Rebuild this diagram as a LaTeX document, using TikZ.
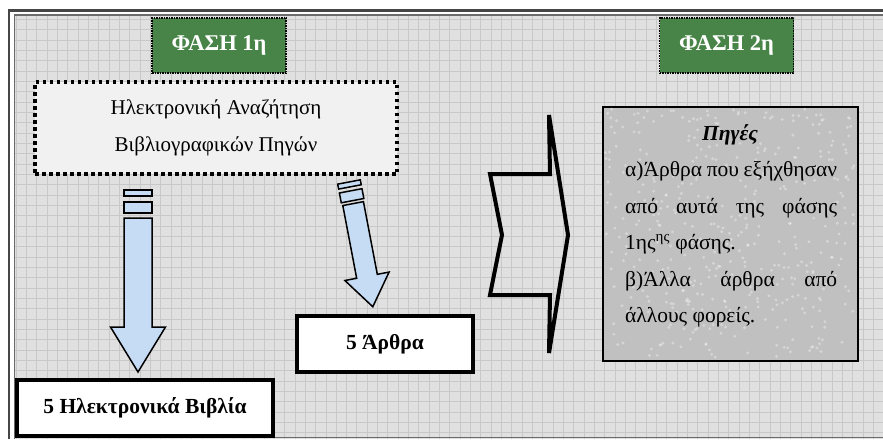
\documentclass[tikz,border=0pt]{standalone}
\usepackage{fontspec}
\setmainfont{Liberation Serif}
\usetikzlibrary{calc}

\definecolor{gridbg}{RGB}{224,224,224}
\definecolor{gridline}{RGB}{200,200,200}
\definecolor{framegray}{RGB}{70,70,70}
\definecolor{phasegreen}{RGB}{72,132,72}
\definecolor{arrowblue}{RGB}{198,220,244}
\definecolor{searchbg}{RGB}{241,241,241}
\definecolor{srcbg}{RGB}{192,192,192}

\tikzset{
  phasebox/.style={draw=black, densely dotted, line width=1.5pt, fill=phasegreen,
    text=white, font=\fontsize{22.5}{26}\selectfont\bfseries,
    minimum width=134pt, minimum height=55pt, inner sep=0pt},
  resultbox/.style={draw=black, line width=3.5pt, fill=white,
    font=\fontsize{21.5}{26}\selectfont\bfseries, minimum height=56pt, inner sep=0pt},
  blockarrow/.style={draw=black, line width=1.5pt, fill=arrowblue, line join=miter},
  srcline/.style={anchor=base west, inner sep=0pt, font=\fontsize{21.5}{26}\selectfont},
}

\begin{document}
\begin{tikzpicture}[x=1pt, y=-1pt]
    \path[use as bounding box] (0,0) rectangle (883,439);
    % Grid paper.
    \fill[gridbg] (14,15) rectangle (883,439);
    \foreach \gx in {0,...,84}
    \draw[gridline, line width=0.8pt] ({16+10.33*\gx},15) -- ({16+10.33*\gx},439);
    \foreach \gy in {0,...,41}
    \draw[gridline, line width=0.8pt] (14,{19.5+10.33*\gy}) -- (883,{19.5+10.33*\gy});
    % Border.
    \draw[framegray, line width=2.5pt] (9,439) -- (9,10.5) -- (883,10.5);
    \draw[framegray!80, line width=1.2pt] (14.5,439) -- (14.5,15) -- (883,15);
    \draw[framegray!80, line width=1pt] (14.5,437.5) -- (883,437.5);
    % Phase labels.
    \node[phasebox] (phase1) at (219,45.5) {ΦΑΣΗ 1η};
    \node[phasebox] (phase2) at (726.5,45.5) {ΦΑΣΗ 2η};
    % Phase 1.
    \node[draw=black, line width=3.5pt, dash pattern=on 3.5pt off 3.5pt, fill=searchbg,
      minimum width=362pt, minimum height=92pt, align=center,
      font=\fontsize{21}{37}\selectfont] (search) at (216,128)
      {Ηλεκτρονική Αναζήτηση\\Βιβλιογραφικών Πηγών};
    \begin{scope}[shift={(138,190)}]
      \draw[blockarrow] (-14,0) rectangle (14,6);
      \draw[blockarrow] (-14,12) rectangle (14,23);
      \draw[blockarrow] (-14,28) -- (14,28) -- (14,137) -- (27.5,137) -- (0,182)
        -- (-27.5,137) -- (-14,137) -- cycle;
    \end{scope}
    \begin{scope}[shift={(349,182)}, rotate=10.8]
      \draw[blockarrow] (-11.5,0) rectangle (11.5,5);
      \draw[blockarrow] (-11.5,9) rectangle (11.5,19);
      \draw[blockarrow] (-10.5,22) -- (10.5,22) -- (10.5,96) -- (22.5,96) -- (0,127)
        -- (-22.5,96) -- (-10.5,96) -- cycle;
    \end{scope}
    \node[resultbox, minimum width=256pt] (ebooks) at (145,408) {5 Ηλεκτρονικά Βιβλία};
    \node[resultbox, minimum width=176pt] (articles) at (385,344) {5 Άρθρα};
    % Step to phase 2.
    \draw[line width=4pt, line join=miter] (549,115) -- (568,235) -- (549,353) -- (550,295)
      -- (490,295) -- (502,235) -- (490,174) -- (550,174) -- cycle;
    % Phase 2.
    \node[draw=black, line width=1.8pt, fill=srcbg, minimum width=255pt,
      minimum height=254pt] (sources) at (730.5,234) {};
    \pgfmathsetseed{2718}
    \foreach \k in {1,...,450}
    \fill[white, opacity=0.35] ($ (sources.north west) + (3+249*rnd,3+248*rnd) $) circle(1.6pt);
    \node[srcline, anchor=base, font=\fontsize{21.5}{26}\selectfont\bfseries\itshape]
      (sources-title) at (730,140) {Πηγές};
    \foreach \mode/\txt [count=\i] in {s/α)Άρθρα που εξήχθησαν, s/από αυτά της φάσης,
      l/1ης\textsuperscript{ης} φάσης., s/β)Άλλα άρθρα από, l/άλλους φορείς.}
    \node[srcline] (sources-\i) at (625,{140+36.5*\i}) {\makebox[212pt][\mode]{\txt}};
  \end{tikzpicture}
\end{document}
